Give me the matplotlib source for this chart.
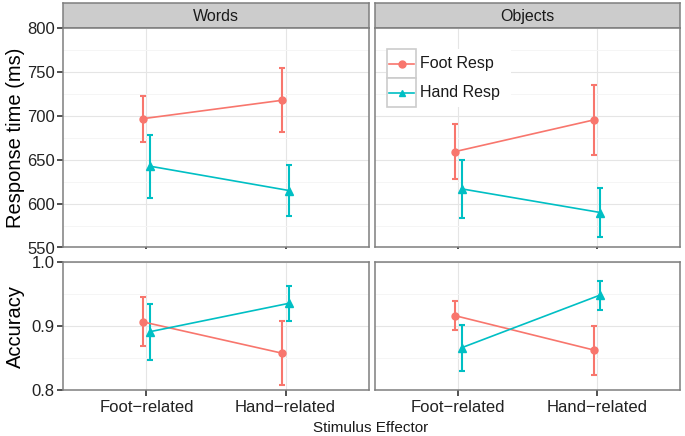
import matplotlib
matplotlib.use("Agg")
import matplotlib.pyplot as plt
from matplotlib.patches import Rectangle

plt.rcParams['font.family'] = ['Liberation Sans', 'DejaVu Sans']

# datos
categorias = ["Foot\u2212related", "Hand\u2212related"]
paneles = ["Words", "Objects"]
series = ["Foot Resp", "Hand Resp"]

# tiempo de respuesta (ms): [Words, Objects] x [Foot-related, Hand-related]
rt_foot = [[696.6, 717.5], [659.1, 695.1]]
rt_foot_lo = [[669.8, 681.1], [628.4, 655.0]]
rt_foot_hi = [[722.7, 753.9], [690.6, 735.2]]
rt_hand = [[642.5, 614.8], [616.7, 589.8]]
rt_hand_lo = [[606.5, 585.7], [583.0, 561.4]]
rt_hand_hi = [[678.4, 644.3], [649.7, 618.2]]

# accuracy
acc_foot = [[0.9065, 0.8575], [0.9164, 0.8626]]
acc_foot_lo = [[0.8684, 0.8083], [0.8944, 0.8232]]
acc_foot_hi = [[0.9452, 0.9076], [0.9389, 0.9007]]
acc_hand = [[0.8913, 0.9358], [0.8662, 0.9488]]
acc_hand_lo = [[0.8466, 0.9085], [0.8298, 0.9258]]
acc_hand_hi = [[0.9347, 0.9634], [0.9023, 0.9707]]

colores = {"Foot Resp": "#F8766D", "Hand Resp": "#00BFC4"}
marcadores = {"Foot Resp": "o", "Hand Resp": "^"}
desplaz = {"Foot Resp": -0.022, "Hand Resp": 0.025}

W, H = 685, 436
fig = plt.figure(figsize=(W / 100, H / 100), dpi=100)


def caja(x0, y0, x1, y1):
    # pixeles -> coordenadas de figura
    return [x0 / W, 1 - y1 / H, (x1 - x0) / W, (y1 - y0) / H]


cols_x = [(63, 369), (375, 680)]
top_y = (27.7, 247.5)
bot_y = (262.3, 390)
strip_y = (3.5, 27.7)
borde = "#7F7F7F"


def estilo(ax, ylim, mayores, menores, izq, abajo):
    ax.set_xlim(0.4, 2.6)
    ax.set_ylim(*ylim)
    ax.set_xticks([1, 2])
    ax.set_yticks(mayores)
    ax.set_yticks(menores, minor=True)
    ax.grid(True, which="major", color="#E5E5E5", linewidth=0.8)
    ax.grid(True, which="minor", axis="y", color="#F5F5F5", linewidth=0.7)
    ax.set_axisbelow(True)
    for s in ax.spines.values():
        s.set_color(borde)
        s.set_linewidth(1.1)
    ax.tick_params(axis="both", which="minor", length=0)
    ax.tick_params(axis="y", which="major", length=4 if izq else 0, width=1.2,
                   color="#333333", labelsize=12, labelcolor="#222222", pad=2)
    ax.tick_params(axis="x", which="major", length=4 if abajo else 1.2, width=1.2,
                   color="#333333", labelsize=12, labelcolor="#222222", pad=3)
    if abajo:
        ax.set_xticklabels(categorias)
    else:
        ax.set_xticklabels([])
    if not izq:
        ax.set_yticklabels([])


def dibujar(ax, vals, lo, hi, nombre, j):
    xs = [c + desplaz[nombre] for c in [1, 2]]
    y = vals[j]
    err = [[y[k] - lo[j][k] for k in range(2)], [hi[j][k] - y[k] for k in range(2)]]
    col = colores[nombre]
    ax.errorbar(xs, y, yerr=err, fmt="none", ecolor=col, elinewidth=1.5,
                capsize=2.5, capthick=1.5, zorder=3)
    ax.plot(xs, y, color=col, linewidth=1.2, marker=marcadores[nombre],
            markersize=5 if nombre == "Foot Resp" else 5.5, zorder=4, label=nombre)


for j, panel in enumerate(paneles):
    x0, x1 = cols_x[j]
    # franja del titulo
    st = fig.add_axes(caja(x0, strip_y[0], x1, strip_y[1]))
    st.set_facecolor("#CCCCCC")
    st.set_xticks([])
    st.set_yticks([])
    for s in st.spines.values():
        s.set_color(borde)
        s.set_linewidth(1.1)
    st.text(0.5, 0.45, panel, ha="center", va="center", fontsize=11.5,
            color="#1A1A1A", transform=st.transAxes)

    ax1 = fig.add_axes(caja(x0, top_y[0], x1, top_y[1]))
    estilo(ax1, (550, 800), [550, 600, 650, 700, 750, 800],
           [575, 625, 675, 725, 775], j == 0, False)
    dibujar(ax1, rt_foot, rt_foot_lo, rt_foot_hi, "Foot Resp", j)
    dibujar(ax1, rt_hand, rt_hand_lo, rt_hand_hi, "Hand Resp", j)

    ax2 = fig.add_axes(caja(x0, bot_y[0], x1, bot_y[1]))
    estilo(ax2, (0.8, 1.0), [0.8, 0.9, 1.0], [0.85, 0.95], j == 0, True)
    ax2.set_yticklabels(["0.8", "0.9", "1.0"] if j == 0 else [])
    dibujar(ax2, acc_foot, acc_foot_lo, acc_foot_hi, "Foot Resp", j)
    dibujar(ax2, acc_hand, acc_hand_lo, acc_hand_hi, "Hand Resp", j)

    if j == 0:
        ax1.set_ylabel("Response time (ms)", fontsize=14.5)
        ax2.set_ylabel("Accuracy", fontsize=14.5)
        ax1.yaxis.set_label_coords(-0.123, 0.5)
        ax2.yaxis.set_label_coords(-0.123, 0.5)
    else:
        # leyenda con cajas por clave, como ggplot
        t = ax1.transAxes
        ax1.add_patch(Rectangle((0.036, 0.638), 0.41, 0.264, transform=t,
                                facecolor="white", edgecolor="none", zorder=5))
        for k, nombre in enumerate(series):
            yb = 0.770 - k * 0.132
            ax1.add_patch(Rectangle((0.038, yb), 0.098, 0.132, transform=t,
                                    facecolor="white", edgecolor="#CCCCCC",
                                    linewidth=1.2, zorder=6))
            ax1.plot([0.046, 0.128], [yb + 0.066, yb + 0.066], transform=t,
                     color=colores[nombre], linewidth=1.2, zorder=7)
            ax1.plot([0.087], [yb + 0.066], transform=t, color=colores[nombre],
                     marker=marcadores[nombre], markersize=5, zorder=8)
            ax1.text(0.148, yb + 0.066, nombre, transform=t, fontsize=11.5,
                     va="center", ha="left", color="#1A1A1A", zorder=8)

fig.text(371 / W, 1 - 428 / H, "Stimulus Effector", ha="center", va="center",
         fontsize=11, color="#1A1A1A")

fig.savefig("out.png", dpi=100)
